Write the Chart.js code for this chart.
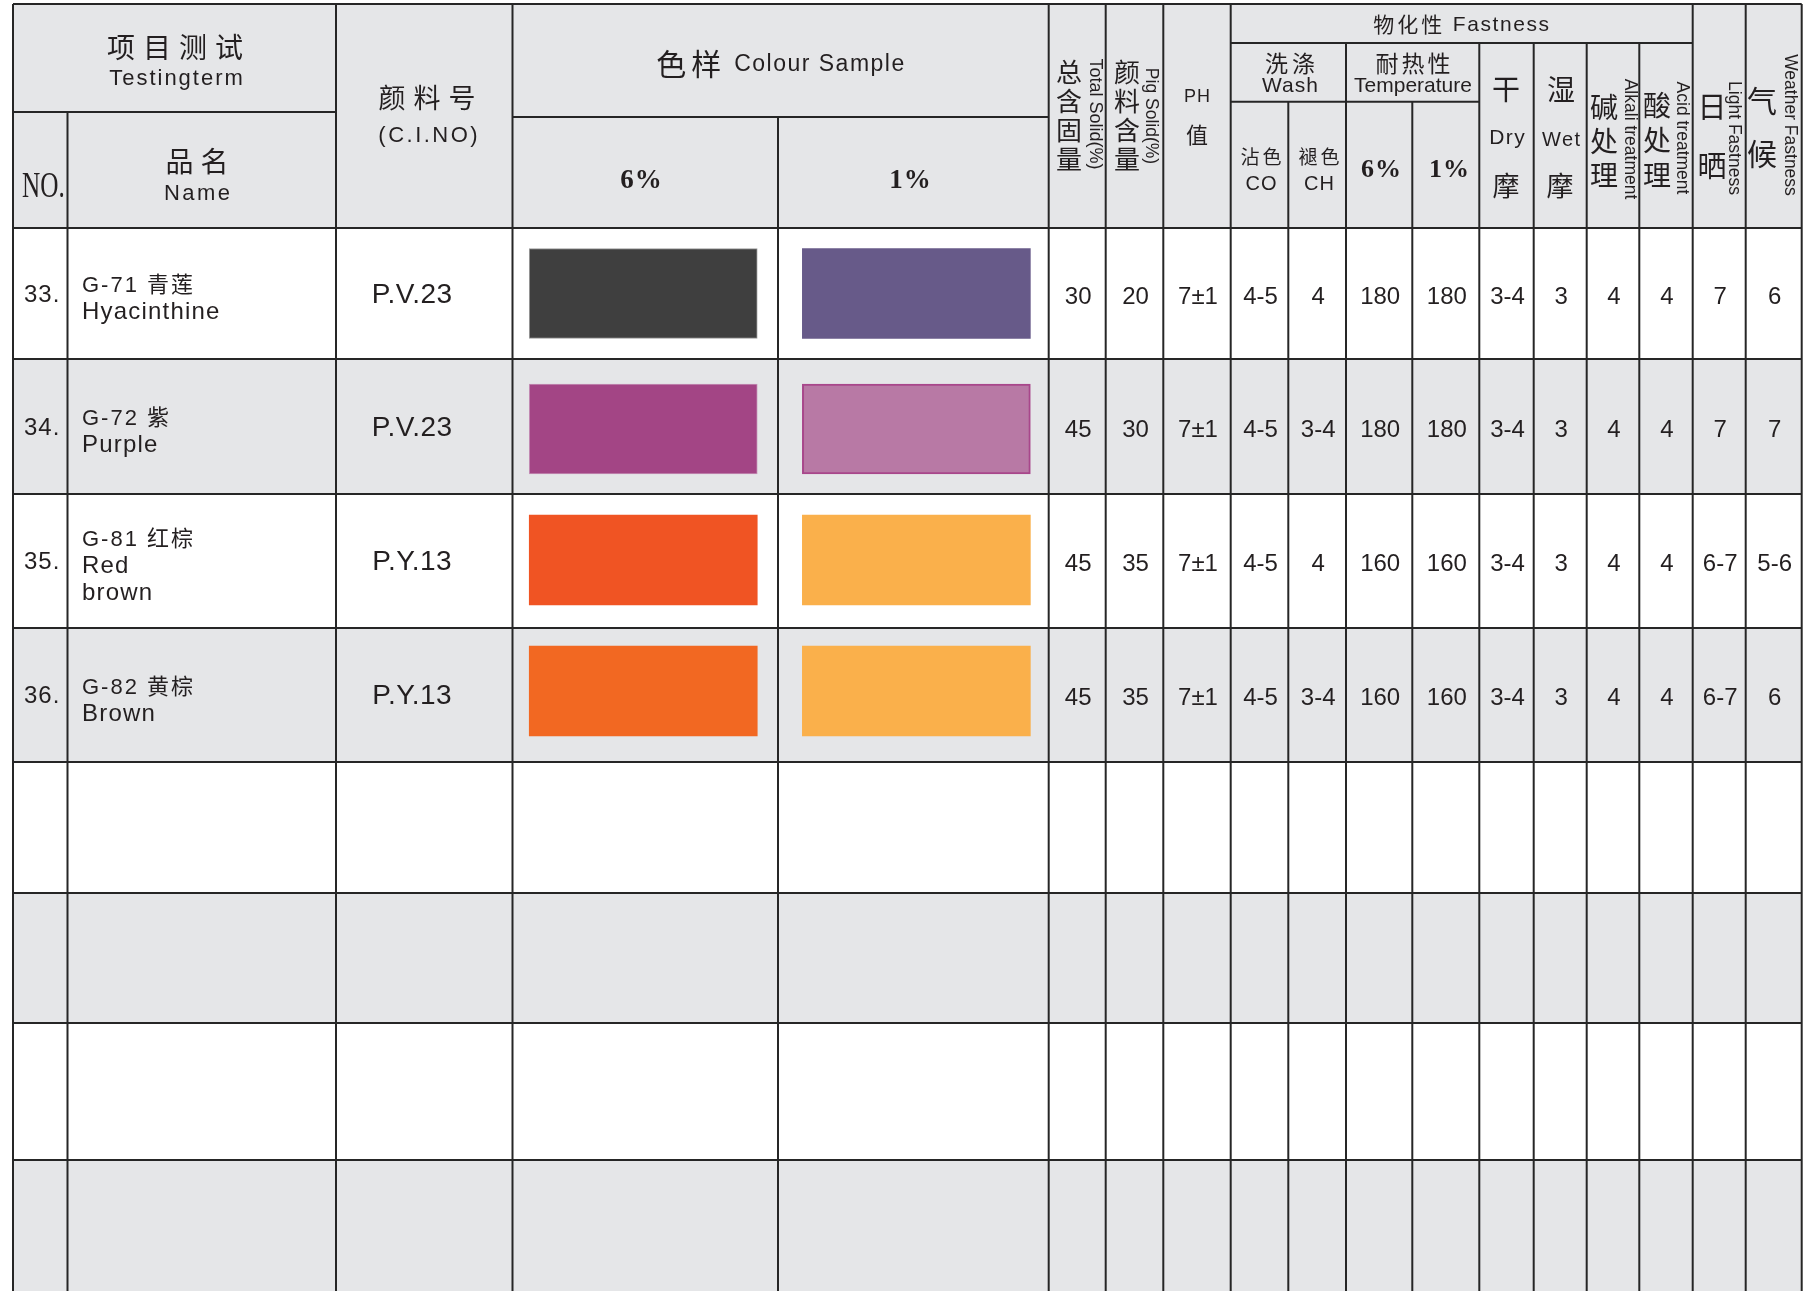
<!DOCTYPE html>
<html>
<head>
<meta charset="utf-8">
<script src="https://cdn.jsdelivr.net/npm/chart.js@4.4.1/dist/chart.umd.min.js"></script>
<style>
    html, body { margin: 0; padding: 0; background: #fff; }
    #wrap { width: 1817px; height: 1291px; position: relative; }
</style>
</head>
<body>
<div id="wrap"><canvas id="sheet"></canvas></div>
<script>
// ---- table data ----
const rowNo = ['33.', '34.', '35.', '36.']
const codes = ['G-71 青莲', 'G-72 紫', 'G-81 红棕', 'G-82 黄棕']
const namesEn = [['Hyacinthine'], ['Purple'], ['Red', 'brown'], ['Brown']]
const ciNo = ['P.V.23', 'P.V.23', 'P.Y.13', 'P.Y.13']
const swatch6 = ['#3f3f3f', '#a34585', '#f05423', '#f26822']
const swatch1 = ['#675a89', '#b879a5', '#fab04b', '#fab04b']
const totalSolid = ['30', '45', '45', '45']
const pigSolid = ['20', '30', '35', '35']
const phValue = ['7±1', '7±1', '7±1', '7±1']
const washCO = ['4-5', '4-5', '4-5', '4-5']
const washCH = ['4', '3-4', '4', '3-4']
const temp6 = ['180', '180', '160', '160']
const temp1 = ['180', '180', '160', '160']
const dryRub = ['3-4', '3-4', '3-4', '3-4']
const wetRub = ['3', '3', '3', '3']
const alkali = ['4', '4', '4', '4']
const acid = ['4', '4', '4', '4']
const lightF = ['7', '7', '6-7', '6-7']
const weatherF = ['6', '7', '5-6', '6']

// ---- page layout (page units, mapped through the chart scales) ----
const W = 1817, H = 1291
const colEdges = [13, 67.5, 336, 512.5, 778, 1048.7, 1105.7, 1163.3, 1230.7, 1288.3, 1346, 1412.3, 1479.3, 1533.7, 1586.7, 1639.3, 1692.7, 1745.7, 1801.7]
const rowEdges = [228, 359, 494, 628, 762, 893, 1023, 1160, 1300]
const TOP = 4, SUB_TEST = 112, SUB_COLOUR = 117, SUB_FAST = 43, SUB_WASH = 101.7
const colTop = [TOP, SUB_TEST, TOP, TOP, SUB_COLOUR, TOP, TOP, TOP, TOP, SUB_WASH, SUB_FAST, SUB_WASH, SUB_FAST, SUB_FAST, SUB_FAST, SUB_FAST, TOP, TOP, TOP]
const SWATCH_W = 228, SWATCH_H = 90
const swatchShift = [0, 2.5, -1, -4] //the printed swatches are not quite centred in their rows

const GRAY = '#e5e6e8'
const INK = '#231f20'
const LINE = '#262626'
const SANS = '"Liberation Sans", Arial, "Noto Sans CJK SC", sans-serif'
const CJK = '"Noto Sans CJK SC", sans-serif'
const SERIF = '"Liberation Serif", "Times New Roman", serif'

const mid = (a, b) => (a + b) / 2
const rowMid = i => mid(rowEdges[i], rowEdges[i + 1])
const colMid = c => mid(colEdges[c], colEdges[c + 1])

function txt(ctx, s, x, y, o = {}) {
    ctx.save()
    ctx.font = `${o.weight || 'normal'} ${o.size || 20}px ${o.family || SANS}`
    ctx.letterSpacing = (o.spacing || 0) + 'px'
    ctx.textAlign = o.align || 'center'
    ctx.textBaseline = o.base || 'alphabetic'
    ctx.fillStyle = INK
    ctx.translate(x, y)
    if (o.rotate) ctx.rotate(o.rotate)
    if (o.sx) ctx.scale(o.sx, 1)
    const shift = (o.align || 'center') === 'center' ? (o.spacing || 0) / 2 : 0
    ctx.fillText(s, shift, 0)
    ctx.restore()
}

// several runs of different size on one line, centered on cx
function runs(ctx, parts, cx, y) {
    let widths = parts.map(p => {
        ctx.save()
        ctx.font = `${p.size}px ${p.family || SANS}`
        ctx.letterSpacing = (p.spacing || 0) + 'px'
        const w = ctx.measureText(p.s).width
        ctx.restore()
        return w
    })
    let x = cx - widths.reduce((a, b) => a + b, 0) / 2
    parts.forEach((p, i) => {
        txt(ctx, p.s, x, y + (p.dy || 0), { size: p.size, family: p.family, spacing: p.spacing, align: 'left', base: p.base })
        x += widths[i]
    })
}

// stacked CJK characters, one under the other
function stack(ctx, s, x, y0, step, size) {
    [...s].forEach((ch, i) => txt(ctx, ch, x, y0 + i * step, { size: size, family: CJK, base: 'middle' }))
}

const tablePlugin = {
    id: 'table',
    beforeDatasetsDraw(chart) {
        const ctx = chart.ctx
        const X = v => chart.scales.x.getPixelForValue(v)
        const Y = v => chart.scales.y.getPixelForValue(v)
        const L = colEdges[0], R = colEdges[colEdges.length - 1]

        ctx.save()
        //header + every other row in gray
        ctx.fillStyle = GRAY
        ctx.fillRect(X(L), Y(TOP), X(R) - X(L), Y(rowEdges[0]) - Y(TOP))
        for (let i = 0; i < rowEdges.length - 1; i++) {
            if (i % 2 == 1) ctx.fillRect(X(L), Y(rowEdges[i]), X(R) - X(L), Y(rowEdges[i + 1]) - Y(rowEdges[i]))
        }

        ctx.strokeStyle = LINE
        ctx.lineWidth = 2
        const seg = (x1, y1, x2, y2) => {
            ctx.beginPath(); ctx.moveTo(X(x1), Y(y1)); ctx.lineTo(X(x2), Y(y2)); ctx.stroke()
        }
        colEdges.forEach((c, i) => seg(c, colTop[i], c, H))
        seg(L, TOP, R, TOP)
        seg(colEdges[0], SUB_TEST, colEdges[2], SUB_TEST)
        seg(colEdges[3], SUB_COLOUR, colEdges[5], SUB_COLOUR)
        seg(colEdges[8], SUB_FAST, colEdges[16], SUB_FAST)
        seg(colEdges[8], SUB_WASH, colEdges[12], SUB_WASH)
        rowEdges.slice(0, -1).forEach(r => seg(L, r, R, r))
        ctx.restore()
    },
    afterDatasetsDraw(chart) {
        const ctx = chart.ctx
        const X = v => chart.scales.x.getPixelForValue(v)
        const Y = v => chart.scales.y.getPixelForValue(v)
        const V = Math.PI / 2

        // ---- header ----
        txt(ctx, '项目测试', X(175), Y(47), { size: 28, family: CJK, spacing: 8, base: 'middle' })
        txt(ctx, 'Testingterm', X(176), Y(85), { size: 22, spacing: 2 })
        txt(ctx, 'NO.', X(22), Y(197), { size: 36, family: SERIF, align: 'left', sx: 0.7 })
        txt(ctx, '品名', X(197), Y(161), { size: 28, family: CJK, spacing: 7, base: 'middle' })
        txt(ctx, 'Name', X(197), Y(200), { size: 22, spacing: 2.5 })
        txt(ctx, '颜料号', X(427), Y(98), { size: 27, family: CJK, spacing: 8, base: 'middle' })
        txt(ctx, '(C.I.NO)', X(428), Y(142), { size: 22, spacing: 2.5 })

        runs(ctx, [
            { s: '色样', size: 30, family: CJK, spacing: 5, base: 'middle', dy: 0 },
            { s: ' Colour Sample', size: 23, spacing: 1.5, base: 'middle', dy: 1 }
        ], X(781), Y(64))
        txt(ctx, '6%', X(641), Y(188), { size: 27, family: SERIF, weight: 'bold', spacing: 1 })
        txt(ctx, '1%', X(910), Y(188), { size: 27, family: SERIF, weight: 'bold', spacing: 1 })

        stack(ctx, '总含固量', X(1069), Y(72), 29, 26)
        txt(ctx, 'Total Solid(%)', X(1095), Y(114), { size: 18, rotate: V, base: 'middle' })
        stack(ctx, '颜料含量', X(1127), Y(72), 29, 26)
        txt(ctx, 'Pig Solid(%)', X(1151), Y(116), { size: 17.5, rotate: V, base: 'middle' })
        txt(ctx, 'PH', X(1197), Y(102), { size: 18, spacing: 1 })
        txt(ctx, '值', X(1197), Y(135), { size: 22, family: CJK, base: 'middle' })

        runs(ctx, [
            { s: '物化性', size: 21, family: CJK, spacing: 3, base: 'middle' },
            { s: ' Fastness', size: 21, spacing: 1.6, base: 'middle', dy: 1 }
        ], X(1462), Y(24))
        txt(ctx, '洗涤', X(1290), Y(63), { size: 23, family: CJK, spacing: 4, base: 'middle' })
        txt(ctx, 'Wash', X(1290), Y(92), { size: 21, spacing: 1 })
        txt(ctx, '耐热性', X(1413), Y(63), { size: 23, family: CJK, spacing: 3, base: 'middle' })
        txt(ctx, 'Temperature', X(1413), Y(92), { size: 21 })
        txt(ctx, '沾色', X(1261), Y(157), { size: 19, family: CJK, spacing: 3, base: 'middle' })
        txt(ctx, 'CO', X(1261), Y(190), { size: 20, spacing: 1 })
        txt(ctx, '褪色', X(1319), Y(157), { size: 19, family: CJK, spacing: 3, base: 'middle' })
        txt(ctx, 'CH', X(1319), Y(190), { size: 20, spacing: 1 })
        txt(ctx, '6%', X(1381), Y(177), { size: 26, family: SERIF, weight: 'bold', spacing: 1 })
        txt(ctx, '1%', X(1449), Y(177), { size: 26, family: SERIF, weight: 'bold', spacing: 1 })

        txt(ctx, '干', X(1506), Y(89), { size: 28, family: CJK, base: 'middle' })
        txt(ctx, 'Dry', X(1507), Y(144), { size: 21, spacing: 1.5 })
        txt(ctx, '摩', X(1506), Y(186), { size: 27, family: CJK, base: 'middle' })
        txt(ctx, '湿', X(1561), Y(89), { size: 28, family: CJK, base: 'middle' })
        txt(ctx, 'Wet', X(1561), Y(146), { size: 20, spacing: 1.5 })
        txt(ctx, '摩', X(1560), Y(186), { size: 27, family: CJK, base: 'middle' })

        stack(ctx, '碱处理', X(1604), Y(107), 34, 28)
        txt(ctx, 'Alkali treatment', X(1630), Y(139), { size: 17.5, rotate: V, base: 'middle' })
        stack(ctx, '酸处理', X(1657), Y(105), 35, 28)
        txt(ctx, 'Acid treatment', X(1682), Y(138), { size: 17.5, rotate: V, base: 'middle' })
        stack(ctx, '日晒', X(1712), Y(107), 59, 29)
        txt(ctx, 'Light Fastness', X(1734), Y(138), { size: 17.5, rotate: V, base: 'middle' })
        stack(ctx, '气候', X(1762), Y(101), 53, 30)
        txt(ctx, 'Weather Fastness', X(1790), Y(125), { size: 17.5, rotate: V, base: 'middle' })

        // ---- body rows ----
        const cells = [totalSolid, pigSolid, phValue, washCO, washCH, temp6, temp1, dryRub, wetRub, alkali, acid, lightF, weatherF]
        rowNo.forEach((no, i) => {
            const m = rowMid(i)
            txt(ctx, no, X(24), Y(m + 8), { size: 24, align: 'left', spacing: 1 })
            const lines = [codes[i]].concat(namesEn[i])
            const first = m + 12 - (lines.length - 1) * 13.5
            lines.forEach((s, k) => {
                txt(ctx, s, X(82), Y(first + k * 27), { size: k == 0 ? 22 : 24, align: 'left', spacing: k == 0 ? 2 : 1.2 })
            })
            txt(ctx, ciNo[i], X(412), Y(m + 9), { size: 28, spacing: 0.5 })
            cells.forEach((arr, c) => {
                txt(ctx, arr[i], X(colMid(5 + c) + 1), Y(m + 10), { size: 24 })
            })
        })
    }
}

const swatchData = col => rowNo.map((_, i) => {
    const c = rowMid(i) + swatchShift[i]
    return { x: colMid(col), y: [c - SWATCH_H / 2, c + SWATCH_H / 2] }
})

new Chart(document.getElementById('sheet'), {
    type: 'bar',
    data: {
        datasets: [{
            label: '6%',
            data: swatchData(3).map(d => ({ x: d.x - 2, y: d.y })),
            backgroundColor: swatch6,
            borderColor: ['#9a9a9a', '#c590b6', swatch6[2], swatch6[3]],
            borderWidth: [1, 1, 0, 0],
            borderSkipped: false,
            barThickness: SWATCH_W,
            grouped: false
        }, {
            label: '1%',
            data: swatchData(4).map(d => ({ x: d.x + 3, y: d.y })),
            backgroundColor: swatch1,
            borderColor: [swatch1[0], '#a8478b', swatch1[2], swatch1[3]],
            borderWidth: [0, 2, 0, 0],
            borderSkipped: false,
            barThickness: SWATCH_W,
            grouped: false
        }]
    },
    options: {
        responsive: true,
        maintainAspectRatio: false,
        animation: false,
        events: [],
        layout: { padding: 0 },
        plugins: { legend: { display: false }, tooltip: { enabled: false } },
        scales: {
            x: { type: 'linear', min: 0, max: W, offset: false, display: false },
            y: { type: 'linear', min: 0, max: H, reverse: true, display: false }
        }
    },
    plugins: [tablePlugin]
})
</script>
</body>
</html>
